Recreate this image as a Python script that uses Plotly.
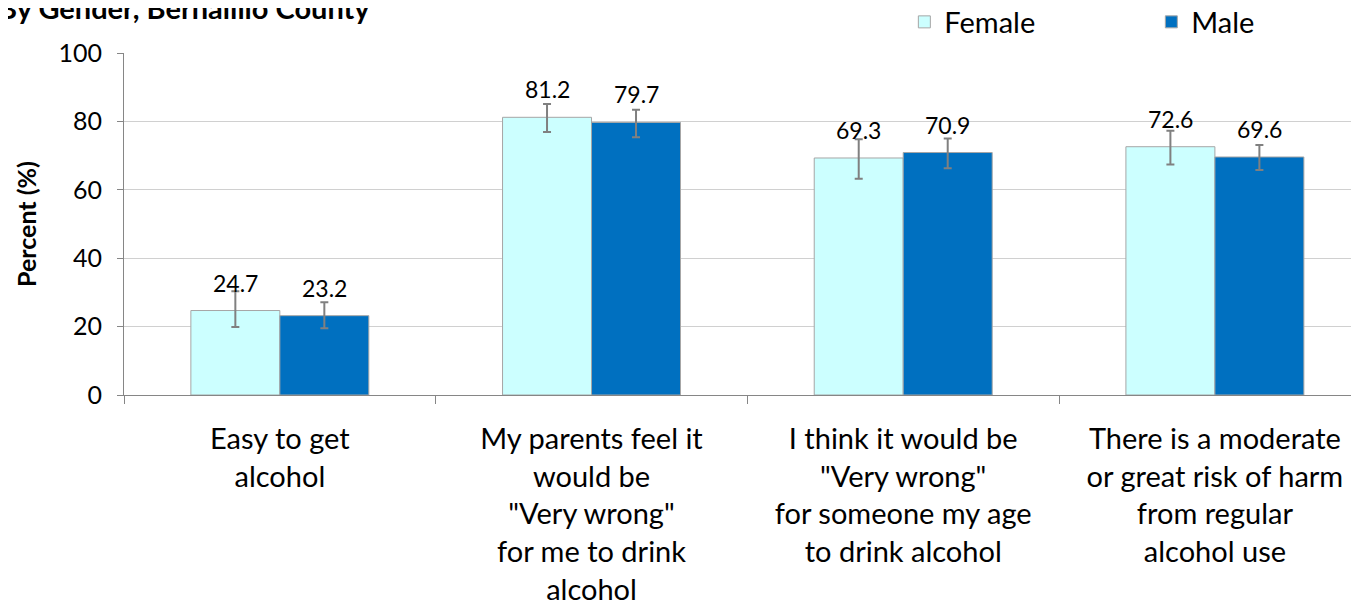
import plotly.graph_objects as go

categories = [
    "Easy to get<br>alcohol",
    "My parents feel it<br>would be<br>\"Very wrong\"<br>for me to drink<br>alcohol",
    "I think it would be<br>\"Very wrong\"<br>for someone my age<br>to drink alcohol",
    "There is a moderate<br>or great risk of harm<br>from regular<br>alcohol use",
]
female = [24.7, 81.2, 69.3, 72.6]
male = [23.2, 79.7, 70.9, 69.6]
female_hi = [30.3, 85.1, 74.8, 77.3]
female_lo = [19.9, 76.9, 63.2, 67.4]
male_hi = [27.1, 83.4, 75.0, 73.1]
male_lo = [19.5, 75.4, 66.3, 65.8]

FONT = "Lato, 'Open Sans', sans-serif"
err_col = "#808080"

fig = go.Figure()
for name, vals, hi, lo, col, leg in [
    ("Female", female, female_hi, female_lo, "#ccffff", "legend"),
    ("Male", male, male_hi, male_lo, "#0070c0", "legend2"),
]:
    fig.add_trace(go.Bar(
        name=name, x=categories, y=vals, legend=leg,
        marker=dict(color=col, line=dict(color="#a6a6a6", width=1)),
        error_y=dict(type="data", symmetric=False,
                     array=[h - v for h, v in zip(hi, vals)],
                     arrayminus=[v - l for l, v in zip(lo, vals)],
                     color=err_col, thickness=2, width=4),
    ))
    shift = -44.5 if name == "Female" else 44.5
    for c, v in zip(categories, vals):
        fig.add_annotation(x=c, y=v, xref="x", yref="y", text=f"{v:.1f}",
                           showarrow=False, xshift=shift, yshift=12,
                           yanchor="bottom", font=dict(size=23, color="black", family=FONT))

fig.add_annotation(x=-0.103, y=1.133, xref="paper", yref="paper", xanchor="left", yanchor="middle",
                   text="<b>By Gender, Bernalillo County</b>", showarrow=False,
                   font=dict(size=29, color="black", family=FONT))

leg_common = dict(orientation="h", xanchor="left", y=1.0906, yanchor="middle",
                  yref="paper", font=dict(size=29, family=FONT),
                  bgcolor="rgba(0,0,0,0)")

fig.update_layout(
    width=1359, height=608,
    margin=dict(l=116, r=0, t=45, b=221, autoexpand=False),
    paper_bgcolor="white", plot_bgcolor="white",
    barmode="group", bargap=0.429, bargroupgap=0,
    font=dict(family=FONT, color="black"),
    showlegend=True,
    legend=dict(x=0.6278, **leg_common),
    legend2=dict(x=0.8265, **leg_common),
    xaxis=dict(range=[-0.5, 3.488], tickson="boundaries", ticks="outside", ticklen=8,
               tickcolor="#868686", showline=True, linecolor="#868686", linewidth=1,
               tickfont=dict(size=29, family=FONT, color="black"), showgrid=False,
               ticklabelstandoff=18, automargin=False),
    yaxis=dict(range=[0, 100], dtick=20, ticks="outside", ticklen=6, tickcolor="#868686",
               showline=True, linecolor="#868686", linewidth=1,
               gridcolor="#d0d0d0", gridwidth=1, automargin=False,
               tickfont=dict(size=25, family=FONT, color="black"), ticklabelstandoff=10,
               title=dict(text="<b>Percent (%)</b>", font=dict(size=25, family=FONT), standoff=14)),
)

fig.write_html("out.html")
